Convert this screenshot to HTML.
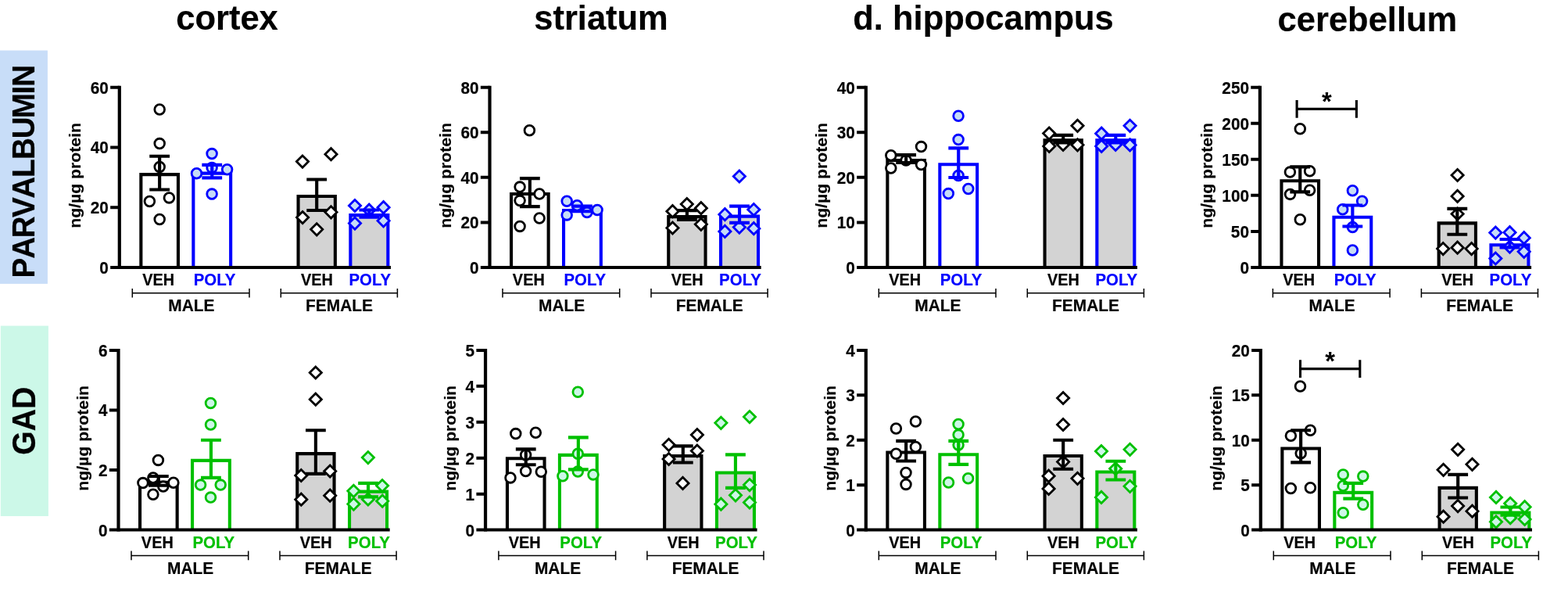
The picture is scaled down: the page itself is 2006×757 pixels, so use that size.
<!DOCTYPE html>
<html lang="en">
<head>
<meta charset="utf-8">
<title>Parvalbumin and GAD levels by brain region</title>
<style>
html,body{margin:0;padding:0;background:#fff;}
body{width:2006px;height:757px;overflow:hidden;}
svg{display:block;}
text{font-family:"Liberation Sans",Arial,Helvetica,sans-serif;font-weight:bold;fill:#000;}
.t{font-size:20.8px;}
.xv{font-size:19.9px;}
.xp{font-size:20.45px;}
.gl{font-size:20.9px;}
.t,.xv,.xp,.gl,.yl,.side,.title{stroke:#000;stroke-width:0.2px;}
.title{font-size:43.5px;}
.yl{font-size:21.2px;}
.side{font-size:39.3px;}
.pv{font-size:38.6px;}
.star{font-size:32.7px;}
.cb{fill:#0000ff;stroke:#0000ff;}
.cg{fill:#00c000;stroke:#00c000;}
</style>
</head>
<body>
<svg width="2006" height="757" viewBox="0 0 2006 757" role="img" aria-label="Parvalbumin and GAD protein levels in cortex, striatum, dorsal hippocampus and cerebellum of male and female VEH and POLY groups">
<rect width="2006" height="757" fill="#fff"/>
<rect x="0" y="64.5" width="60.9" height="298.4" fill="#c8ddf8"/>
<text transform="translate(43.5 0) rotate(-90) scale(1 1.06)" x="-355.41 -330.82 -304.22 -277.97 -253.87 -227.04 -204.11 -177.22 -151.28 -120.52 -110.68" class="side pv">PARVALBUMIN</text>
<rect x="0.8" y="416.6" width="61.1" height="243.4" fill="#ccf8e8"/>
<text transform="translate(45.2 538.2) rotate(-90) scale(1 1.085)" text-anchor="middle" class="side">GAD</text>
<text transform="translate(290.5 38) scale(1 1.025)" text-anchor="middle" class="title">cortex</text>
<text transform="translate(769 38) scale(1 1.025)" text-anchor="middle" class="title">striatum</text>
<text transform="translate(1258 38) scale(1 1.025)" text-anchor="middle" class="title">d. hippocampus</text>
<text transform="translate(1749.4 40.2) scale(1 1.025)" text-anchor="middle" class="title">cerebellum</text>
<g class="panel">
<path d="M180.35 341.9V223.15H227.95V341.9" fill="#ffffff" stroke="#000000" stroke-width="4.1" stroke-linejoin="miter"/>
<path d="M247.35 341.9V221.65H295.15V341.9" fill="#ffffff" stroke="#0000ff" stroke-width="4.1" stroke-linejoin="miter"/>
<path d="M381.55 341.9V251.05H428.85V341.9" fill="#d3d3d3" stroke="#000000" stroke-width="4.1" stroke-linejoin="miter"/>
<path d="M448.35 341.9V275.15H496.35V341.9" fill="#d3d3d3" stroke="#0000ff" stroke-width="4.1" stroke-linejoin="miter"/>
<circle cx="204.2" cy="140" r="6.35" fill="#ffffff" stroke="#000000" stroke-width="2.8"/>
<circle cx="204.2" cy="183.6" r="6.35" fill="#ffffff" stroke="#000000" stroke-width="2.8"/>
<circle cx="204.2" cy="213.4" r="6.35" fill="#ffffff" stroke="#000000" stroke-width="2.8"/>
<circle cx="216.4" cy="252.9" r="6.35" fill="#ffffff" stroke="#000000" stroke-width="2.8"/>
<circle cx="191.4" cy="257.5" r="6.35" fill="#ffffff" stroke="#000000" stroke-width="2.8"/>
<circle cx="204.2" cy="280.5" r="6.35" fill="#ffffff" stroke="#000000" stroke-width="2.8"/>
<circle cx="271.1" cy="196.6" r="6.35" fill="#c6dcf7" stroke="#0000ff" stroke-width="2.8"/>
<circle cx="251.5" cy="221.8" r="6.35" fill="#c6dcf7" stroke="#0000ff" stroke-width="2.8"/>
<circle cx="290.6" cy="216.7" r="6.35" fill="#c6dcf7" stroke="#0000ff" stroke-width="2.8"/>
<circle cx="271.1" cy="214.5" r="6.35" fill="#c6dcf7" stroke="#0000ff" stroke-width="2.8"/>
<circle cx="271.1" cy="248.1" r="6.35" fill="#c6dcf7" stroke="#0000ff" stroke-width="2.8"/>
<path d="M387 199L394.6 206.6L387 214.2L379.4 206.6Z" fill="#ffffff" stroke="#000000" stroke-width="2.8" stroke-linejoin="miter"/>
<path d="M423.5 189.6L431.1 197.2L423.5 204.8L415.9 197.2Z" fill="#ffffff" stroke="#000000" stroke-width="2.8" stroke-linejoin="miter"/>
<path d="M387.1 270.5L394.7 278.1L387.1 285.7L379.5 278.1Z" fill="#ffffff" stroke="#000000" stroke-width="2.8" stroke-linejoin="miter"/>
<path d="M423.5 263.7L431.1 271.3L423.5 278.9L415.9 271.3Z" fill="#ffffff" stroke="#000000" stroke-width="2.8" stroke-linejoin="miter"/>
<path d="M405.2 285.7L412.8 293.3L405.2 300.9L397.6 293.3Z" fill="#ffffff" stroke="#000000" stroke-width="2.8" stroke-linejoin="miter"/>
<path d="M454 255.4L461.6 263L454 270.6L446.4 263Z" fill="#c6dcf7" stroke="#0000ff" stroke-width="2.8" stroke-linejoin="miter"/>
<path d="M490.6 257.6L498.2 265.2L490.6 272.8L483 265.2Z" fill="#c6dcf7" stroke="#0000ff" stroke-width="2.8" stroke-linejoin="miter"/>
<path d="M472.2 261.1L479.8 268.7L472.2 276.3L464.6 268.7Z" fill="#c6dcf7" stroke="#0000ff" stroke-width="2.8" stroke-linejoin="miter"/>
<path d="M454 278L461.6 285.6L454 293.2L446.4 285.6Z" fill="#c6dcf7" stroke="#0000ff" stroke-width="2.8" stroke-linejoin="miter"/>
<path d="M490.6 274.7L498.2 282.3L490.6 289.9L483 282.3Z" fill="#c6dcf7" stroke="#0000ff" stroke-width="2.8" stroke-linejoin="miter"/>
<path d="M191.25 199.7H217.05M191.25 242.5H217.05M204.15 199.7V242.5" fill="none" stroke="#000000" stroke-width="4.15"/>
<path d="M258.35 210.8H284.15M258.35 227.3H284.15M271.25 210.8V227.3" fill="none" stroke="#0000ff" stroke-width="4.15"/>
<path d="M392.3 229.5H418.1M392.3 269H418.1M405.2 229.5V269" fill="none" stroke="#000000" stroke-width="4.15"/>
<path d="M459.45 268.5H485.25M459.45 277.7H485.25M472.35 268.5V277.7" fill="none" stroke="#0000ff" stroke-width="4.15"/>
<path d="M152.8 109.8V343.9" fill="none" stroke="#000" stroke-width="4.2"/>
<path d="M141.15 341.9H500" fill="none" stroke="#000" stroke-width="4"/>
<path d="M141.15 265.2H152.8M141.15 188.5H152.8M141.15 111.8H152.8" fill="none" stroke="#000" stroke-width="4"/>
<text transform="translate(138.9 349.8) scale(1 1.065)" text-anchor="end" class="t">0</text>
<text transform="translate(138.9 273.1) scale(1 1.065)" text-anchor="end" class="t">20</text>
<text transform="translate(138.9 196.4) scale(1 1.065)" text-anchor="end" class="t">40</text>
<text transform="translate(138.9 119.7) scale(1 1.065)" text-anchor="end" class="t">60</text>
<text transform="translate(103.1 224.45) rotate(-90) scale(1 0.93)" text-anchor="middle" class="yl">ng/µg protein</text>
<text transform="translate(202.6 365) scale(1 1.09)" text-anchor="middle" class="xv">VEH</text>
<text transform="translate(274.6 365) scale(1 1.065)" text-anchor="middle" class="xp cb">POLY</text>
<text transform="translate(405.5 365) scale(1 1.09)" text-anchor="middle" class="xv">VEH</text>
<text transform="translate(473.3 365) scale(1 1.065)" text-anchor="middle" class="xp cb">POLY</text>
<path d="M169.3 374.7H319M169.3 368.9v11.6M319 368.9v11.6" fill="none" stroke="#000" stroke-width="1.5"/>
<text transform="translate(244.9 398) scale(1 1.05)" text-anchor="middle" class="gl">MALE</text>
<path d="M359.3 374.7H508.4M359.3 368.9v11.6M508.4 368.9v11.6" fill="none" stroke="#000" stroke-width="1.5"/>
<text transform="translate(434 398) scale(1 1.05)" text-anchor="middle" class="gl">FEMALE</text>
</g>
<g class="panel">
<path d="M654.05 341.9V248.05H701.65V341.9" fill="#ffffff" stroke="#000000" stroke-width="4.1" stroke-linejoin="miter"/>
<path d="M721.05 341.9V268.95H768.85V341.9" fill="#ffffff" stroke="#0000ff" stroke-width="4.1" stroke-linejoin="miter"/>
<path d="M855.25 341.9V277.1H902.55V341.9" fill="#d3d3d3" stroke="#000000" stroke-width="4.1" stroke-linejoin="miter"/>
<path d="M922.05 341.9V276.65H970.05V341.9" fill="#d3d3d3" stroke="#0000ff" stroke-width="4.1" stroke-linejoin="miter"/>
<circle cx="677.4" cy="166.7" r="6.35" fill="#ffffff" stroke="#000000" stroke-width="2.8"/>
<circle cx="665.1" cy="239.1" r="6.35" fill="#ffffff" stroke="#000000" stroke-width="2.8"/>
<circle cx="690.1" cy="248" r="6.35" fill="#ffffff" stroke="#000000" stroke-width="2.8"/>
<circle cx="665.1" cy="256.6" r="6.35" fill="#ffffff" stroke="#000000" stroke-width="2.8"/>
<circle cx="690.1" cy="279" r="6.35" fill="#ffffff" stroke="#000000" stroke-width="2.8"/>
<circle cx="665.1" cy="289.4" r="6.35" fill="#ffffff" stroke="#000000" stroke-width="2.8"/>
<circle cx="725.2" cy="257.2" r="6.35" fill="#c6dcf7" stroke="#0000ff" stroke-width="2.8"/>
<circle cx="738.3" cy="262.8" r="6.35" fill="#c6dcf7" stroke="#0000ff" stroke-width="2.8"/>
<circle cx="764.1" cy="268.5" r="6.35" fill="#c6dcf7" stroke="#0000ff" stroke-width="2.8"/>
<circle cx="751" cy="271.6" r="6.35" fill="#c6dcf7" stroke="#0000ff" stroke-width="2.8"/>
<circle cx="725.2" cy="274.9" r="6.35" fill="#c6dcf7" stroke="#0000ff" stroke-width="2.8"/>
<path d="M878.8 253.4L886.4 261L878.8 268.6L871.2 261Z" fill="#ffffff" stroke="#000000" stroke-width="2.8" stroke-linejoin="miter"/>
<path d="M860.45 262.6L868.05 270.2L860.45 277.8L852.85 270.2Z" fill="#ffffff" stroke="#000000" stroke-width="2.8" stroke-linejoin="miter"/>
<path d="M896.85 258.6L904.45 266.2L896.85 273.8L889.25 266.2Z" fill="#ffffff" stroke="#000000" stroke-width="2.8" stroke-linejoin="miter"/>
<path d="M896.85 279.25L904.45 286.85L896.85 294.45L889.25 286.85Z" fill="#ffffff" stroke="#000000" stroke-width="2.8" stroke-linejoin="miter"/>
<path d="M860.45 283.9L868.05 291.5L860.45 299.1L852.85 291.5Z" fill="#ffffff" stroke="#000000" stroke-width="2.8" stroke-linejoin="miter"/>
<path d="M945.9 217.9L953.5 225.5L945.9 233.1L938.3 225.5Z" fill="#c6dcf7" stroke="#0000ff" stroke-width="2.8" stroke-linejoin="miter"/>
<path d="M964.3 260.4L971.9 268L964.3 275.6L956.7 268Z" fill="#c6dcf7" stroke="#0000ff" stroke-width="2.8" stroke-linejoin="miter"/>
<path d="M927.4 266.6L935 274.2L927.4 281.8L919.8 274.2Z" fill="#c6dcf7" stroke="#0000ff" stroke-width="2.8" stroke-linejoin="miter"/>
<path d="M945.9 283L953.5 290.6L945.9 298.2L938.3 290.6Z" fill="#c6dcf7" stroke="#0000ff" stroke-width="2.8" stroke-linejoin="miter"/>
<path d="M964.3 284.6L971.9 292.2L964.3 299.8L956.7 292.2Z" fill="#c6dcf7" stroke="#0000ff" stroke-width="2.8" stroke-linejoin="miter"/>
<path d="M927.4 288.3L935 295.9L927.4 303.5L919.8 295.9Z" fill="#c6dcf7" stroke="#0000ff" stroke-width="2.8" stroke-linejoin="miter"/>
<path d="M664.95 228.1H690.75M664.95 264.1H690.75M677.85 228.1V264.1" fill="none" stroke="#000000" stroke-width="4.15"/>
<path d="M732.05 263.6H757.85M732.05 270.2H757.85M744.95 263.6V270.2" fill="none" stroke="#0000ff" stroke-width="4.15"/>
<path d="M866 269.05H891.8M866 280.95H891.8M878.9 269.05V280.95" fill="none" stroke="#000000" stroke-width="4.15"/>
<path d="M933.15 263.6H958.95M933.15 284.9H958.95M946.05 263.6V284.9" fill="none" stroke="#0000ff" stroke-width="4.15"/>
<path d="M626.5 109.8V343.9" fill="none" stroke="#000" stroke-width="4.2"/>
<path d="M614.85 341.9H973.7" fill="none" stroke="#000" stroke-width="4"/>
<path d="M614.85 284.38H626.5M614.85 226.85H626.5M614.85 169.32H626.5M614.85 111.8H626.5" fill="none" stroke="#000" stroke-width="4"/>
<text transform="translate(612.6 349.8) scale(1 1.065)" text-anchor="end" class="t">0</text>
<text transform="translate(612.6 292.27) scale(1 1.065)" text-anchor="end" class="t">20</text>
<text transform="translate(612.6 234.75) scale(1 1.065)" text-anchor="end" class="t">40</text>
<text transform="translate(612.6 177.22) scale(1 1.065)" text-anchor="end" class="t">60</text>
<text transform="translate(612.6 119.7) scale(1 1.065)" text-anchor="end" class="t">80</text>
<text transform="translate(577.3 224.45) rotate(-90) scale(1 0.93)" text-anchor="middle" class="yl">ng/µg protein</text>
<text transform="translate(676.3 365) scale(1 1.09)" text-anchor="middle" class="xv">VEH</text>
<text transform="translate(748.3 365) scale(1 1.065)" text-anchor="middle" class="xp cb">POLY</text>
<text transform="translate(879.2 365) scale(1 1.09)" text-anchor="middle" class="xv">VEH</text>
<text transform="translate(947 365) scale(1 1.065)" text-anchor="middle" class="xp cb">POLY</text>
<path d="M643 374.7H792.7M643 368.9v11.6M792.7 368.9v11.6" fill="none" stroke="#000" stroke-width="1.5"/>
<text transform="translate(718.6 398) scale(1 1.05)" text-anchor="middle" class="gl">MALE</text>
<path d="M833 374.7H982.1M833 368.9v11.6M982.1 368.9v11.6" fill="none" stroke="#000" stroke-width="1.5"/>
<text transform="translate(907.7 398) scale(1 1.05)" text-anchor="middle" class="gl">FEMALE</text>
</g>
<g class="panel">
<path d="M1135.35 341.9V204.95H1182.95V341.9" fill="#ffffff" stroke="#000000" stroke-width="4.1" stroke-linejoin="miter"/>
<path d="M1202.35 341.9V210.25H1250.15V341.9" fill="#ffffff" stroke="#0000ff" stroke-width="4.1" stroke-linejoin="miter"/>
<path d="M1336.55 341.9V179.35H1383.85V341.9" fill="#d3d3d3" stroke="#000000" stroke-width="4.1" stroke-linejoin="miter"/>
<path d="M1403.35 341.9V179.35H1451.35V341.9" fill="#d3d3d3" stroke="#0000ff" stroke-width="4.1" stroke-linejoin="miter"/>
<circle cx="1139.8" cy="198.8" r="6.35" fill="#ffffff" stroke="#000000" stroke-width="2.8"/>
<circle cx="1178.5" cy="187.6" r="6.35" fill="#ffffff" stroke="#000000" stroke-width="2.8"/>
<circle cx="1159.1" cy="205.1" r="6.35" fill="#ffffff" stroke="#000000" stroke-width="2.8"/>
<circle cx="1178.5" cy="210.6" r="6.35" fill="#ffffff" stroke="#000000" stroke-width="2.8"/>
<circle cx="1139.8" cy="215" r="6.35" fill="#ffffff" stroke="#000000" stroke-width="2.8"/>
<circle cx="1226.1" cy="148.3" r="6.35" fill="#c6dcf7" stroke="#0000ff" stroke-width="2.8"/>
<circle cx="1226.1" cy="178.6" r="6.35" fill="#c6dcf7" stroke="#0000ff" stroke-width="2.8"/>
<circle cx="1226.1" cy="224.4" r="6.35" fill="#c6dcf7" stroke="#0000ff" stroke-width="2.8"/>
<circle cx="1238.8" cy="241.5" r="6.35" fill="#c6dcf7" stroke="#0000ff" stroke-width="2.8"/>
<circle cx="1213.3" cy="247.6" r="6.35" fill="#c6dcf7" stroke="#0000ff" stroke-width="2.8"/>
<path d="M1378.5 153.2L1386.1 160.8L1378.5 168.4L1370.9 160.8Z" fill="#ffffff" stroke="#000000" stroke-width="2.8" stroke-linejoin="miter"/>
<path d="M1342.2 163L1349.8 170.6L1342.2 178.2L1334.6 170.6Z" fill="#ffffff" stroke="#000000" stroke-width="2.8" stroke-linejoin="miter"/>
<path d="M1342.3 179.3L1349.9 186.9L1342.3 194.5L1334.7 186.9Z" fill="#ffffff" stroke="#000000" stroke-width="2.8" stroke-linejoin="miter"/>
<path d="M1360.1 177.3L1367.7 184.9L1360.1 192.5L1352.5 184.9Z" fill="#ffffff" stroke="#000000" stroke-width="2.8" stroke-linejoin="miter"/>
<path d="M1378.5 177.7L1386.1 185.3L1378.5 192.9L1370.9 185.3Z" fill="#ffffff" stroke="#000000" stroke-width="2.8" stroke-linejoin="miter"/>
<path d="M1445.6 153.2L1453.2 160.8L1445.6 168.4L1438 160.8Z" fill="#c6dcf7" stroke="#0000ff" stroke-width="2.8" stroke-linejoin="miter"/>
<path d="M1409.2 163.1L1416.8 170.7L1409.2 178.3L1401.6 170.7Z" fill="#c6dcf7" stroke="#0000ff" stroke-width="2.8" stroke-linejoin="miter"/>
<path d="M1409.2 179.3L1416.8 186.9L1409.2 194.5L1401.6 186.9Z" fill="#c6dcf7" stroke="#0000ff" stroke-width="2.8" stroke-linejoin="miter"/>
<path d="M1427.2 177.3L1434.8 184.9L1427.2 192.5L1419.6 184.9Z" fill="#c6dcf7" stroke="#0000ff" stroke-width="2.8" stroke-linejoin="miter"/>
<path d="M1445.6 177.8L1453.2 185.4L1445.6 193L1438 185.4Z" fill="#c6dcf7" stroke="#0000ff" stroke-width="2.8" stroke-linejoin="miter"/>
<path d="M1146.25 198.1H1172.05M1146.25 208H1172.05M1159.15 198.1V208" fill="none" stroke="#000000" stroke-width="4.15"/>
<path d="M1213.35 189.3H1239.15M1213.35 227H1239.15M1226.25 189.3V227" fill="none" stroke="#0000ff" stroke-width="4.15"/>
<path d="M1347.3 172.9H1373.1M1347.3 182.3H1373.1M1360.2 172.9V182.3" fill="none" stroke="#000000" stroke-width="4.15"/>
<path d="M1414.45 172.9H1440.25M1414.45 182.3H1440.25M1427.35 172.9V182.3" fill="none" stroke="#0000ff" stroke-width="4.15"/>
<path d="M1107.8 109.8V343.9" fill="none" stroke="#000" stroke-width="4.2"/>
<path d="M1096.15 341.9H1455" fill="none" stroke="#000" stroke-width="4"/>
<path d="M1096.15 284.38H1107.8M1096.15 226.85H1107.8M1096.15 169.32H1107.8M1096.15 111.8H1107.8" fill="none" stroke="#000" stroke-width="4"/>
<text transform="translate(1093.9 349.8) scale(1 1.065)" text-anchor="end" class="t">0</text>
<text transform="translate(1093.9 292.27) scale(1 1.065)" text-anchor="end" class="t">10</text>
<text transform="translate(1093.9 234.75) scale(1 1.065)" text-anchor="end" class="t">20</text>
<text transform="translate(1093.9 177.22) scale(1 1.065)" text-anchor="end" class="t">30</text>
<text transform="translate(1093.9 119.7) scale(1 1.065)" text-anchor="end" class="t">40</text>
<text transform="translate(1058 224.45) rotate(-90) scale(1 0.93)" text-anchor="middle" class="yl">ng/µg protein</text>
<text transform="translate(1157.6 365) scale(1 1.09)" text-anchor="middle" class="xv">VEH</text>
<text transform="translate(1229.6 365) scale(1 1.065)" text-anchor="middle" class="xp cb">POLY</text>
<text transform="translate(1360.5 365) scale(1 1.09)" text-anchor="middle" class="xv">VEH</text>
<text transform="translate(1428.3 365) scale(1 1.065)" text-anchor="middle" class="xp cb">POLY</text>
<path d="M1124.3 374.7H1274M1124.3 368.9v11.6M1274 368.9v11.6" fill="none" stroke="#000" stroke-width="1.5"/>
<text transform="translate(1199.9 398) scale(1 1.05)" text-anchor="middle" class="gl">MALE</text>
<path d="M1314.3 374.7H1463.4M1314.3 368.9v11.6M1463.4 368.9v11.6" fill="none" stroke="#000" stroke-width="1.5"/>
<text transform="translate(1389 398) scale(1 1.05)" text-anchor="middle" class="gl">FEMALE</text>
</g>
<g class="panel">
<path d="M1639.45 341.9V231.25H1687.05V341.9" fill="#ffffff" stroke="#000000" stroke-width="4.1" stroke-linejoin="miter"/>
<path d="M1706.45 341.9V277.75H1754.25V341.9" fill="#ffffff" stroke="#0000ff" stroke-width="4.1" stroke-linejoin="miter"/>
<path d="M1840.65 341.9V285.35H1887.95V341.9" fill="#d3d3d3" stroke="#000000" stroke-width="4.1" stroke-linejoin="miter"/>
<path d="M1907.45 341.9V313.25H1955.45V341.9" fill="#d3d3d3" stroke="#0000ff" stroke-width="4.1" stroke-linejoin="miter"/>
<circle cx="1663.3" cy="164.8" r="6.35" fill="#ffffff" stroke="#000000" stroke-width="2.8"/>
<circle cx="1650.4" cy="220.1" r="6.35" fill="#ffffff" stroke="#000000" stroke-width="2.8"/>
<circle cx="1675.6" cy="218.8" r="6.35" fill="#ffffff" stroke="#000000" stroke-width="2.8"/>
<circle cx="1675.6" cy="243.3" r="6.35" fill="#ffffff" stroke="#000000" stroke-width="2.8"/>
<circle cx="1650.5" cy="248.4" r="6.35" fill="#ffffff" stroke="#000000" stroke-width="2.8"/>
<circle cx="1663.3" cy="280.8" r="6.35" fill="#ffffff" stroke="#000000" stroke-width="2.8"/>
<circle cx="1730.4" cy="243.7" r="6.35" fill="#c6dcf7" stroke="#0000ff" stroke-width="2.8"/>
<circle cx="1742.6" cy="257.3" r="6.35" fill="#c6dcf7" stroke="#0000ff" stroke-width="2.8"/>
<circle cx="1717.7" cy="267.8" r="6.35" fill="#c6dcf7" stroke="#0000ff" stroke-width="2.8"/>
<circle cx="1730.4" cy="290.6" r="6.35" fill="#c6dcf7" stroke="#0000ff" stroke-width="2.8"/>
<circle cx="1730.4" cy="320" r="6.35" fill="#c6dcf7" stroke="#0000ff" stroke-width="2.8"/>
<path d="M1864.6 216.4L1872.2 224L1864.6 231.6L1857 224Z" fill="#ffffff" stroke="#000000" stroke-width="2.8" stroke-linejoin="miter"/>
<path d="M1864.6 243.3L1872.2 250.9L1864.6 258.5L1857 250.9Z" fill="#ffffff" stroke="#000000" stroke-width="2.8" stroke-linejoin="miter"/>
<path d="M1864.6 265.9L1872.2 273.5L1864.6 281.1L1857 273.5Z" fill="#ffffff" stroke="#000000" stroke-width="2.8" stroke-linejoin="miter"/>
<path d="M1846.2 310.5L1853.8 318.1L1846.2 325.7L1838.6 318.1Z" fill="#ffffff" stroke="#000000" stroke-width="2.8" stroke-linejoin="miter"/>
<path d="M1864.6 309.1L1872.2 316.7L1864.6 324.3L1857 316.7Z" fill="#ffffff" stroke="#000000" stroke-width="2.8" stroke-linejoin="miter"/>
<path d="M1882.6 310.5L1890.2 318.1L1882.6 325.7L1875 318.1Z" fill="#ffffff" stroke="#000000" stroke-width="2.8" stroke-linejoin="miter"/>
<path d="M1913.3 290L1920.9 297.6L1913.3 305.2L1905.7 297.6Z" fill="#c6dcf7" stroke="#0000ff" stroke-width="2.8" stroke-linejoin="miter"/>
<path d="M1931.5 289.6L1939.1 297.2L1931.5 304.8L1923.9 297.2Z" fill="#c6dcf7" stroke="#0000ff" stroke-width="2.8" stroke-linejoin="miter"/>
<path d="M1949.7 296.6L1957.3 304.2L1949.7 311.8L1942.1 304.2Z" fill="#c6dcf7" stroke="#0000ff" stroke-width="2.8" stroke-linejoin="miter"/>
<path d="M1931.5 308L1939.1 315.6L1931.5 323.2L1923.9 315.6Z" fill="#c6dcf7" stroke="#0000ff" stroke-width="2.8" stroke-linejoin="miter"/>
<path d="M1949.7 314.2L1957.3 321.8L1949.7 329.4L1942.1 321.8Z" fill="#c6dcf7" stroke="#0000ff" stroke-width="2.8" stroke-linejoin="miter"/>
<path d="M1913.3 322.9L1920.9 330.5L1913.3 338.1L1905.7 330.5Z" fill="#c6dcf7" stroke="#0000ff" stroke-width="2.8" stroke-linejoin="miter"/>
<path d="M1650.35 213.4H1676.15M1650.35 245.3H1676.15M1663.25 213.4V245.3" fill="none" stroke="#000000" stroke-width="4.15"/>
<path d="M1717.45 262.5H1743.25M1717.45 289.5H1743.25M1730.35 262.5V289.5" fill="none" stroke="#0000ff" stroke-width="4.15"/>
<path d="M1851.4 266.9H1877.2M1851.4 299.7H1877.2M1864.3 266.9V299.7" fill="none" stroke="#000000" stroke-width="4.15"/>
<path d="M1918.55 306H1944.35M1918.55 316.4H1944.35M1931.45 306V316.4" fill="none" stroke="#0000ff" stroke-width="4.15"/>
<path d="M1611.9 109.8V343.9" fill="none" stroke="#000" stroke-width="4.2"/>
<path d="M1600.25 341.9H1959.1" fill="none" stroke="#000" stroke-width="4"/>
<path d="M1600.25 295.88H1611.9M1600.25 249.86H1611.9M1600.25 203.84H1611.9M1600.25 157.82H1611.9M1600.25 111.8H1611.9" fill="none" stroke="#000" stroke-width="4"/>
<text transform="translate(1598 349.8) scale(1 1.065)" text-anchor="end" class="t">0</text>
<text transform="translate(1598 303.78) scale(1 1.065)" text-anchor="end" class="t">50</text>
<text transform="translate(1598 257.76) scale(1 1.065)" text-anchor="end" class="t">100</text>
<text transform="translate(1598 211.74) scale(1 1.065)" text-anchor="end" class="t">150</text>
<text transform="translate(1598 165.72) scale(1 1.065)" text-anchor="end" class="t">200</text>
<text transform="translate(1598 119.7) scale(1 1.065)" text-anchor="end" class="t">250</text>
<text transform="translate(1551.3 224.45) rotate(-90) scale(1 0.93)" text-anchor="middle" class="yl">ng/µg protein</text>
<text transform="translate(1661.7 365) scale(1 1.09)" text-anchor="middle" class="xv">VEH</text>
<text transform="translate(1733.7 365) scale(1 1.065)" text-anchor="middle" class="xp cb">POLY</text>
<text transform="translate(1864.6 365) scale(1 1.09)" text-anchor="middle" class="xv">VEH</text>
<text transform="translate(1932.4 365) scale(1 1.065)" text-anchor="middle" class="xp cb">POLY</text>
<path d="M1628.4 374.7H1778.1M1628.4 368.9v11.6M1778.1 368.9v11.6" fill="none" stroke="#000" stroke-width="1.5"/>
<text transform="translate(1704 398) scale(1 1.05)" text-anchor="middle" class="gl">MALE</text>
<path d="M1818.4 374.7H1967.5M1818.4 368.9v11.6M1967.5 368.9v11.6" fill="none" stroke="#000" stroke-width="1.5"/>
<text transform="translate(1893.1 398) scale(1 1.05)" text-anchor="middle" class="gl">FEMALE</text>
<path d="M1659.1 139.4H1735.4M1659.1 128.1v22.6M1735.4 128.1v22.6" fill="none" stroke="#000" stroke-width="3.1"/>
<text transform="translate(1697.25 141)" text-anchor="middle" class="star">*</text>
</g>
<g class="panel">
<path d="M179.05 677.6V616.9H226.65V677.6" fill="#ffffff" stroke="#000000" stroke-width="4.1" stroke-linejoin="miter"/>
<path d="M246.05 677.6V588.85H293.85V677.6" fill="#ffffff" stroke="#00c000" stroke-width="4.1" stroke-linejoin="miter"/>
<path d="M380.25 677.6V580.15H427.55V677.6" fill="#d3d3d3" stroke="#000000" stroke-width="4.1" stroke-linejoin="miter"/>
<path d="M447.05 677.6V628.65H495.05V677.6" fill="#d3d3d3" stroke="#00c000" stroke-width="4.1" stroke-linejoin="miter"/>
<circle cx="202.4" cy="588.4" r="6.35" fill="#ffffff" stroke="#000000" stroke-width="2.8"/>
<circle cx="195.9" cy="611" r="6.35" fill="#ffffff" stroke="#000000" stroke-width="2.8"/>
<circle cx="182.9" cy="617.6" r="6.35" fill="#ffffff" stroke="#000000" stroke-width="2.8"/>
<circle cx="221.9" cy="617.2" r="6.35" fill="#ffffff" stroke="#000000" stroke-width="2.8"/>
<circle cx="208.8" cy="622.1" r="6.35" fill="#ffffff" stroke="#000000" stroke-width="2.8"/>
<circle cx="195.9" cy="632.2" r="6.35" fill="#ffffff" stroke="#000000" stroke-width="2.8"/>
<circle cx="269.5" cy="515.5" r="6.35" fill="#cdf7e7" stroke="#00c000" stroke-width="2.8"/>
<circle cx="269.5" cy="543" r="6.35" fill="#cdf7e7" stroke="#00c000" stroke-width="2.8"/>
<circle cx="256.6" cy="620.1" r="6.35" fill="#cdf7e7" stroke="#00c000" stroke-width="2.8"/>
<circle cx="282.2" cy="620.1" r="6.35" fill="#cdf7e7" stroke="#00c000" stroke-width="2.8"/>
<circle cx="269.5" cy="636.1" r="6.35" fill="#cdf7e7" stroke="#00c000" stroke-width="2.8"/>
<path d="M403.8 468.9L411.4 476.5L403.8 484.1L396.2 476.5Z" fill="#ffffff" stroke="#000000" stroke-width="2.8" stroke-linejoin="miter"/>
<path d="M403.8 503.1L411.4 510.7L403.8 518.3L396.2 510.7Z" fill="#ffffff" stroke="#000000" stroke-width="2.8" stroke-linejoin="miter"/>
<path d="M422.2 594.9L429.8 602.5L422.2 610.1L414.6 602.5Z" fill="#ffffff" stroke="#000000" stroke-width="2.8" stroke-linejoin="miter"/>
<path d="M385.3 600.4L392.9 608L385.3 615.6L377.7 608Z" fill="#ffffff" stroke="#000000" stroke-width="2.8" stroke-linejoin="miter"/>
<path d="M422.2 626.1L429.8 633.7L422.2 641.3L414.6 633.7Z" fill="#ffffff" stroke="#000000" stroke-width="2.8" stroke-linejoin="miter"/>
<path d="M385.3 631.1L392.9 638.7L385.3 646.3L377.7 638.7Z" fill="#ffffff" stroke="#000000" stroke-width="2.8" stroke-linejoin="miter"/>
<path d="M470.9 577.5L478.5 585.1L470.9 592.7L463.3 585.1Z" fill="#cdf7e7" stroke="#00c000" stroke-width="2.8" stroke-linejoin="miter"/>
<path d="M489.1 613.5L496.7 621.1L489.1 628.7L481.5 621.1Z" fill="#cdf7e7" stroke="#00c000" stroke-width="2.8" stroke-linejoin="miter"/>
<path d="M452.4 620.2L460 627.8L452.4 635.4L444.8 627.8Z" fill="#cdf7e7" stroke="#00c000" stroke-width="2.8" stroke-linejoin="miter"/>
<path d="M470.9 630.8L478.5 638.4L470.9 646L463.3 638.4Z" fill="#cdf7e7" stroke="#00c000" stroke-width="2.8" stroke-linejoin="miter"/>
<path d="M489.2 633.1L496.8 640.7L489.2 648.3L481.6 640.7Z" fill="#cdf7e7" stroke="#00c000" stroke-width="2.8" stroke-linejoin="miter"/>
<path d="M452.4 637L460 644.6L452.4 652.2L444.8 644.6Z" fill="#cdf7e7" stroke="#00c000" stroke-width="2.8" stroke-linejoin="miter"/>
<path d="M189.95 609H215.75M189.95 620.7H215.75M202.85 609V620.7" fill="none" stroke="#000000" stroke-width="4.15"/>
<path d="M257.05 562.7H282.85M257.05 610.9H282.85M269.95 562.7V610.9" fill="none" stroke="#00c000" stroke-width="4.15"/>
<path d="M391 550.2H416.8M391 605.8H416.8M403.9 550.2V605.8" fill="none" stroke="#000000" stroke-width="4.15"/>
<path d="M458.15 617.9H483.95M458.15 635.3H483.95M471.05 617.9V635.3" fill="none" stroke="#00c000" stroke-width="4.15"/>
<path d="M151.5 445.9V679.6" fill="none" stroke="#000" stroke-width="4.2"/>
<path d="M139.85 677.6H498.7" fill="none" stroke="#000" stroke-width="4"/>
<path d="M139.85 601.03H151.5M139.85 524.47H151.5M139.85 447.9H151.5" fill="none" stroke="#000" stroke-width="4"/>
<text transform="translate(137.6 685.5) scale(1 1.065)" text-anchor="end" class="t">0</text>
<text transform="translate(137.6 608.93) scale(1 1.065)" text-anchor="end" class="t">2</text>
<text transform="translate(137.6 532.37) scale(1 1.065)" text-anchor="end" class="t">4</text>
<text transform="translate(137.6 455.8) scale(1 1.065)" text-anchor="end" class="t">6</text>
<text transform="translate(113.1 560.35) rotate(-90) scale(1 0.93)" text-anchor="middle" class="yl">ng/µg protein</text>
<text transform="translate(201.3 700.7) scale(1 1.09)" text-anchor="middle" class="xv">VEH</text>
<text transform="translate(273.3 700.7) scale(1 1.065)" text-anchor="middle" class="xp cg">POLY</text>
<text transform="translate(404.2 700.7) scale(1 1.09)" text-anchor="middle" class="xv">VEH</text>
<text transform="translate(472 700.7) scale(1 1.065)" text-anchor="middle" class="xp cg">POLY</text>
<path d="M168 710.4H317.7M168 704.6v11.6M317.7 704.6v11.6" fill="none" stroke="#000" stroke-width="1.5"/>
<text transform="translate(243.6 733.7) scale(1 1.05)" text-anchor="middle" class="gl">MALE</text>
<path d="M358 710.4H507.1M358 704.6v11.6M507.1 704.6v11.6" fill="none" stroke="#000" stroke-width="1.5"/>
<text transform="translate(432.7 733.7) scale(1 1.05)" text-anchor="middle" class="gl">FEMALE</text>
</g>
<g class="panel">
<path d="M648.95 677.6V586.25H696.55V677.6" fill="#ffffff" stroke="#000000" stroke-width="4.1" stroke-linejoin="miter"/>
<path d="M715.95 677.6V581.85H763.75V677.6" fill="#ffffff" stroke="#00c000" stroke-width="4.1" stroke-linejoin="miter"/>
<path d="M850.15 677.6V582.95H897.45V677.6" fill="#d3d3d3" stroke="#000000" stroke-width="4.1" stroke-linejoin="miter"/>
<path d="M916.95 677.6V604.55H964.95V677.6" fill="#d3d3d3" stroke="#00c000" stroke-width="4.1" stroke-linejoin="miter"/>
<circle cx="659.8" cy="554.6" r="6.35" fill="#ffffff" stroke="#000000" stroke-width="2.8"/>
<circle cx="685.3" cy="553.3" r="6.35" fill="#ffffff" stroke="#000000" stroke-width="2.8"/>
<circle cx="672.6" cy="581.8" r="6.35" fill="#ffffff" stroke="#000000" stroke-width="2.8"/>
<circle cx="672.6" cy="602.5" r="6.35" fill="#ffffff" stroke="#000000" stroke-width="2.8"/>
<circle cx="692.3" cy="603.2" r="6.35" fill="#ffffff" stroke="#000000" stroke-width="2.8"/>
<circle cx="653" cy="610.9" r="6.35" fill="#ffffff" stroke="#000000" stroke-width="2.8"/>
<circle cx="739.3" cy="501.3" r="6.35" fill="#cdf7e7" stroke="#00c000" stroke-width="2.8"/>
<circle cx="739.3" cy="580.3" r="6.35" fill="#cdf7e7" stroke="#00c000" stroke-width="2.8"/>
<circle cx="739.3" cy="603" r="6.35" fill="#cdf7e7" stroke="#00c000" stroke-width="2.8"/>
<circle cx="759" cy="606.9" r="6.35" fill="#cdf7e7" stroke="#00c000" stroke-width="2.8"/>
<circle cx="719.9" cy="608.7" r="6.35" fill="#cdf7e7" stroke="#00c000" stroke-width="2.8"/>
<path d="M891.9 548.5L899.5 556.1L891.9 563.7L884.3 556.1Z" fill="#ffffff" stroke="#000000" stroke-width="2.8" stroke-linejoin="miter"/>
<path d="M855.6 561.2L863.2 568.8L855.6 576.4L848 568.8Z" fill="#ffffff" stroke="#000000" stroke-width="2.8" stroke-linejoin="miter"/>
<path d="M891.9 568.9L899.5 576.5L891.9 584.1L884.3 576.5Z" fill="#ffffff" stroke="#000000" stroke-width="2.8" stroke-linejoin="miter"/>
<path d="M855.6 579.4L863.2 587L855.6 594.6L848 587Z" fill="#ffffff" stroke="#000000" stroke-width="2.8" stroke-linejoin="miter"/>
<path d="M873.5 610.3L881.1 617.9L873.5 625.5L865.9 617.9Z" fill="#ffffff" stroke="#000000" stroke-width="2.8" stroke-linejoin="miter"/>
<path d="M922.4 533.2L930 540.8L922.4 548.4L914.8 540.8Z" fill="#cdf7e7" stroke="#00c000" stroke-width="2.8" stroke-linejoin="miter"/>
<path d="M959 525.5L966.6 533.1L959 540.7L951.4 533.1Z" fill="#cdf7e7" stroke="#00c000" stroke-width="2.8" stroke-linejoin="miter"/>
<path d="M959 612.5L966.6 620.1L959 627.7L951.4 620.1Z" fill="#cdf7e7" stroke="#00c000" stroke-width="2.8" stroke-linejoin="miter"/>
<path d="M941 625.7L948.6 633.3L941 640.9L933.4 633.3Z" fill="#cdf7e7" stroke="#00c000" stroke-width="2.8" stroke-linejoin="miter"/>
<path d="M959 634.9L966.6 642.5L959 650.1L951.4 642.5Z" fill="#cdf7e7" stroke="#00c000" stroke-width="2.8" stroke-linejoin="miter"/>
<path d="M922.4 637.1L930 644.7L922.4 652.3L914.8 644.7Z" fill="#cdf7e7" stroke="#00c000" stroke-width="2.8" stroke-linejoin="miter"/>
<path d="M659.85 574.3H685.65M659.85 594.2H685.65M672.75 574.3V594.2" fill="none" stroke="#000000" stroke-width="4.15"/>
<path d="M726.95 559.4H752.75M726.95 600.3H752.75M739.85 559.4V600.3" fill="none" stroke="#00c000" stroke-width="4.15"/>
<path d="M860.9 570.4H886.7M860.9 591.5H886.7M873.8 570.4V591.5" fill="none" stroke="#000000" stroke-width="4.15"/>
<path d="M928.05 581.3H953.85M928.05 623.8H953.85M940.95 581.3V623.8" fill="none" stroke="#00c000" stroke-width="4.15"/>
<path d="M621.05 445.9V679.6" fill="none" stroke="#000" stroke-width="4.2"/>
<path d="M609.4 677.6H968.6" fill="none" stroke="#000" stroke-width="4"/>
<path d="M609.4 631.66H621.05M609.4 585.72H621.05M609.4 539.78H621.05M609.4 493.84H621.05M609.4 447.9H621.05" fill="none" stroke="#000" stroke-width="4"/>
<text transform="translate(607.15 685.5) scale(1 1.065)" text-anchor="end" class="t">0</text>
<text transform="translate(607.15 639.56) scale(1 1.065)" text-anchor="end" class="t">1</text>
<text transform="translate(607.15 593.62) scale(1 1.065)" text-anchor="end" class="t">2</text>
<text transform="translate(607.15 547.68) scale(1 1.065)" text-anchor="end" class="t">3</text>
<text transform="translate(607.15 501.74) scale(1 1.065)" text-anchor="end" class="t">4</text>
<text transform="translate(607.15 455.8) scale(1 1.065)" text-anchor="end" class="t">5</text>
<text transform="translate(582.8 560.35) rotate(-90) scale(1 0.93)" text-anchor="middle" class="yl">ng/µg protein</text>
<text transform="translate(671.2 700.7) scale(1 1.09)" text-anchor="middle" class="xv">VEH</text>
<text transform="translate(743.2 700.7) scale(1 1.065)" text-anchor="middle" class="xp cg">POLY</text>
<text transform="translate(874.1 700.7) scale(1 1.09)" text-anchor="middle" class="xv">VEH</text>
<text transform="translate(941.9 700.7) scale(1 1.065)" text-anchor="middle" class="xp cg">POLY</text>
<path d="M637.9 710.4H787.6M637.9 704.6v11.6M787.6 704.6v11.6" fill="none" stroke="#000" stroke-width="1.5"/>
<text transform="translate(713.5 733.7) scale(1 1.05)" text-anchor="middle" class="gl">MALE</text>
<path d="M827.9 710.4H977M827.9 704.6v11.6M977 704.6v11.6" fill="none" stroke="#000" stroke-width="1.5"/>
<text transform="translate(902.6 733.7) scale(1 1.05)" text-anchor="middle" class="gl">FEMALE</text>
</g>
<g class="panel">
<path d="M1135.35 677.6V578.55H1182.95V677.6" fill="#ffffff" stroke="#000000" stroke-width="4.1" stroke-linejoin="miter"/>
<path d="M1202.35 677.6V581.25H1250.15V677.6" fill="#ffffff" stroke="#00c000" stroke-width="4.1" stroke-linejoin="miter"/>
<path d="M1336.55 677.6V582.95H1383.85V677.6" fill="#d3d3d3" stroke="#000000" stroke-width="4.1" stroke-linejoin="miter"/>
<path d="M1403.35 677.6V603.55H1451.35V677.6" fill="#d3d3d3" stroke="#00c000" stroke-width="4.1" stroke-linejoin="miter"/>
<circle cx="1171.4" cy="539" r="6.35" fill="#ffffff" stroke="#000000" stroke-width="2.8"/>
<circle cx="1146.4" cy="548" r="6.35" fill="#ffffff" stroke="#000000" stroke-width="2.8"/>
<circle cx="1171.4" cy="571.5" r="6.35" fill="#ffffff" stroke="#000000" stroke-width="2.8"/>
<circle cx="1146.4" cy="580.3" r="6.35" fill="#ffffff" stroke="#000000" stroke-width="2.8"/>
<circle cx="1159" cy="604.4" r="6.35" fill="#ffffff" stroke="#000000" stroke-width="2.8"/>
<circle cx="1159" cy="619.4" r="6.35" fill="#ffffff" stroke="#000000" stroke-width="2.8"/>
<circle cx="1226.1" cy="542.5" r="6.35" fill="#cdf7e7" stroke="#00c000" stroke-width="2.8"/>
<circle cx="1226.1" cy="556.1" r="6.35" fill="#cdf7e7" stroke="#00c000" stroke-width="2.8"/>
<circle cx="1226.1" cy="568.9" r="6.35" fill="#cdf7e7" stroke="#00c000" stroke-width="2.8"/>
<circle cx="1238.6" cy="611.7" r="6.35" fill="#cdf7e7" stroke="#00c000" stroke-width="2.8"/>
<circle cx="1213.5" cy="617" r="6.35" fill="#cdf7e7" stroke="#00c000" stroke-width="2.8"/>
<path d="M1360.1 501.4L1367.7 509L1360.1 516.6L1352.5 509Z" fill="#ffffff" stroke="#000000" stroke-width="2.8" stroke-linejoin="miter"/>
<path d="M1360.1 535.4L1367.7 543L1360.1 550.6L1352.5 543Z" fill="#ffffff" stroke="#000000" stroke-width="2.8" stroke-linejoin="miter"/>
<path d="M1360.1 583L1367.7 590.6L1360.1 598.2L1352.5 590.6Z" fill="#ffffff" stroke="#000000" stroke-width="2.8" stroke-linejoin="miter"/>
<path d="M1341.6 601.1L1349.2 608.7L1341.6 616.3L1334 608.7Z" fill="#ffffff" stroke="#000000" stroke-width="2.8" stroke-linejoin="miter"/>
<path d="M1378.5 604.2L1386.1 611.8L1378.5 619.4L1370.9 611.8Z" fill="#ffffff" stroke="#000000" stroke-width="2.8" stroke-linejoin="miter"/>
<path d="M1341.6 617.3L1349.2 624.9L1341.6 632.5L1334 624.9Z" fill="#ffffff" stroke="#000000" stroke-width="2.8" stroke-linejoin="miter"/>
<path d="M1445.6 567.2L1453.2 574.8L1445.6 582.4L1438 574.8Z" fill="#cdf7e7" stroke="#00c000" stroke-width="2.8" stroke-linejoin="miter"/>
<path d="M1409 569.4L1416.6 577L1409 584.6L1401.4 577Z" fill="#cdf7e7" stroke="#00c000" stroke-width="2.8" stroke-linejoin="miter"/>
<path d="M1427.2 591.7L1434.8 599.3L1427.2 606.9L1419.6 599.3Z" fill="#cdf7e7" stroke="#00c000" stroke-width="2.8" stroke-linejoin="miter"/>
<path d="M1445.6 614.2L1453.2 621.8L1445.6 629.4L1438 621.8Z" fill="#cdf7e7" stroke="#00c000" stroke-width="2.8" stroke-linejoin="miter"/>
<path d="M1409 628.3L1416.6 635.9L1409 643.5L1401.4 635.9Z" fill="#cdf7e7" stroke="#00c000" stroke-width="2.8" stroke-linejoin="miter"/>
<path d="M1146.25 563.8H1172.05M1146.25 589.5H1172.05M1159.15 563.8V589.5" fill="none" stroke="#000000" stroke-width="4.15"/>
<path d="M1213.35 563.8H1239.15M1213.35 593.8H1239.15M1226.25 563.8V593.8" fill="none" stroke="#00c000" stroke-width="4.15"/>
<path d="M1347.3 562.7H1373.1M1347.3 599.7H1373.1M1360.2 562.7V599.7" fill="none" stroke="#000000" stroke-width="4.15"/>
<path d="M1414.45 589.7H1440.25M1414.45 613.5H1440.25M1427.35 589.7V613.5" fill="none" stroke="#00c000" stroke-width="4.15"/>
<path d="M1107.8 445.9V679.6" fill="none" stroke="#000" stroke-width="4.2"/>
<path d="M1096.15 677.6H1455" fill="none" stroke="#000" stroke-width="4"/>
<path d="M1096.15 620.17H1107.8M1096.15 562.75H1107.8M1096.15 505.32H1107.8M1096.15 447.9H1107.8" fill="none" stroke="#000" stroke-width="4"/>
<text transform="translate(1093.9 685.5) scale(1 1.065)" text-anchor="end" class="t">0</text>
<text transform="translate(1093.9 628.07) scale(1 1.065)" text-anchor="end" class="t">1</text>
<text transform="translate(1093.9 570.65) scale(1 1.065)" text-anchor="end" class="t">2</text>
<text transform="translate(1093.9 513.23) scale(1 1.065)" text-anchor="end" class="t">3</text>
<text transform="translate(1093.9 455.8) scale(1 1.065)" text-anchor="end" class="t">4</text>
<text transform="translate(1069.3 560.35) rotate(-90) scale(1 0.93)" text-anchor="middle" class="yl">ng/µg protein</text>
<text transform="translate(1157.6 700.7) scale(1 1.09)" text-anchor="middle" class="xv">VEH</text>
<text transform="translate(1229.6 700.7) scale(1 1.065)" text-anchor="middle" class="xp cg">POLY</text>
<text transform="translate(1360.5 700.7) scale(1 1.09)" text-anchor="middle" class="xv">VEH</text>
<text transform="translate(1428.3 700.7) scale(1 1.065)" text-anchor="middle" class="xp cg">POLY</text>
<path d="M1124.3 710.4H1274M1124.3 704.6v11.6M1274 704.6v11.6" fill="none" stroke="#000" stroke-width="1.5"/>
<text transform="translate(1199.9 733.7) scale(1 1.05)" text-anchor="middle" class="gl">MALE</text>
<path d="M1314.3 710.4H1463.4M1314.3 704.6v11.6M1463.4 704.6v11.6" fill="none" stroke="#000" stroke-width="1.5"/>
<text transform="translate(1389 733.7) scale(1 1.05)" text-anchor="middle" class="gl">FEMALE</text>
</g>
<g class="panel">
<path d="M1640.35 677.6V573.55H1687.95V677.6" fill="#ffffff" stroke="#000000" stroke-width="4.1" stroke-linejoin="miter"/>
<path d="M1707.35 677.6V629.85H1755.15V677.6" fill="#ffffff" stroke="#00c000" stroke-width="4.1" stroke-linejoin="miter"/>
<path d="M1841.55 677.6V623.85H1888.85V677.6" fill="#d3d3d3" stroke="#000000" stroke-width="4.1" stroke-linejoin="miter"/>
<path d="M1908.35 677.6V655.55H1956.35V677.6" fill="#d3d3d3" stroke="#00c000" stroke-width="4.1" stroke-linejoin="miter"/>
<circle cx="1663.5" cy="494" r="6.35" fill="#ffffff" stroke="#000000" stroke-width="2.8"/>
<circle cx="1676.4" cy="550.2" r="6.35" fill="#ffffff" stroke="#000000" stroke-width="2.8"/>
<circle cx="1651.4" cy="557.2" r="6.35" fill="#ffffff" stroke="#000000" stroke-width="2.8"/>
<circle cx="1664.2" cy="579.8" r="6.35" fill="#ffffff" stroke="#000000" stroke-width="2.8"/>
<circle cx="1651.4" cy="624.5" r="6.35" fill="#ffffff" stroke="#000000" stroke-width="2.8"/>
<circle cx="1676.4" cy="623.8" r="6.35" fill="#ffffff" stroke="#000000" stroke-width="2.8"/>
<circle cx="1718.3" cy="606.9" r="6.35" fill="#cdf7e7" stroke="#00c000" stroke-width="2.8"/>
<circle cx="1743.8" cy="609.1" r="6.35" fill="#cdf7e7" stroke="#00c000" stroke-width="2.8"/>
<circle cx="1718.3" cy="621.2" r="6.35" fill="#cdf7e7" stroke="#00c000" stroke-width="2.8"/>
<circle cx="1743.8" cy="645.3" r="6.35" fill="#cdf7e7" stroke="#00c000" stroke-width="2.8"/>
<circle cx="1718.3" cy="655.8" r="6.35" fill="#cdf7e7" stroke="#00c000" stroke-width="2.8"/>
<path d="M1865.1 567.2L1872.7 574.8L1865.1 582.4L1857.5 574.8Z" fill="#ffffff" stroke="#000000" stroke-width="2.8" stroke-linejoin="miter"/>
<path d="M1883.5 586.2L1891.1 593.8L1883.5 601.4L1875.9 593.8Z" fill="#ffffff" stroke="#000000" stroke-width="2.8" stroke-linejoin="miter"/>
<path d="M1846.6 593.2L1854.2 600.8L1846.6 608.4L1839 600.8Z" fill="#ffffff" stroke="#000000" stroke-width="2.8" stroke-linejoin="miter"/>
<path d="M1865.1 639.5L1872.7 647.1L1865.1 654.7L1857.5 647.1Z" fill="#ffffff" stroke="#000000" stroke-width="2.8" stroke-linejoin="miter"/>
<path d="M1883.5 646.1L1891.1 653.7L1883.5 661.3L1875.9 653.7Z" fill="#ffffff" stroke="#000000" stroke-width="2.8" stroke-linejoin="miter"/>
<path d="M1846.6 653.1L1854.2 660.7L1846.6 668.3L1839 660.7Z" fill="#ffffff" stroke="#000000" stroke-width="2.8" stroke-linejoin="miter"/>
<path d="M1914 628.3L1921.6 635.9L1914 643.5L1906.4 635.9Z" fill="#cdf7e7" stroke="#00c000" stroke-width="2.8" stroke-linejoin="miter"/>
<path d="M1932.2 636.2L1939.8 643.8L1932.2 651.4L1924.6 643.8Z" fill="#cdf7e7" stroke="#00c000" stroke-width="2.8" stroke-linejoin="miter"/>
<path d="M1950.6 640.6L1958.2 648.2L1950.6 655.8L1943 648.2Z" fill="#cdf7e7" stroke="#00c000" stroke-width="2.8" stroke-linejoin="miter"/>
<path d="M1932.2 654.6L1939.8 662.2L1932.2 669.8L1924.6 662.2Z" fill="#cdf7e7" stroke="#00c000" stroke-width="2.8" stroke-linejoin="miter"/>
<path d="M1950.6 656.4L1958.2 664L1950.6 671.6L1943 664Z" fill="#cdf7e7" stroke="#00c000" stroke-width="2.8" stroke-linejoin="miter"/>
<path d="M1914 659.7L1921.6 667.3L1914 674.9L1906.4 667.3Z" fill="#cdf7e7" stroke="#00c000" stroke-width="2.8" stroke-linejoin="miter"/>
<path d="M1651.25 550.2H1677.05M1651.25 591.3H1677.05M1664.15 550.2V591.3" fill="none" stroke="#000000" stroke-width="4.15"/>
<path d="M1718.35 617.9H1744.15M1718.35 637.6H1744.15M1731.25 617.9V637.6" fill="none" stroke="#00c000" stroke-width="4.15"/>
<path d="M1852.3 606.9H1878.1M1852.3 636.5H1878.1M1865.2 606.9V636.5" fill="none" stroke="#000000" stroke-width="4.15"/>
<path d="M1919.45 648.5H1945.25M1919.45 658.6H1945.25M1932.35 648.5V658.6" fill="none" stroke="#00c000" stroke-width="4.15"/>
<path d="M1612.8 445.9V679.6" fill="none" stroke="#000" stroke-width="4.2"/>
<path d="M1601.15 677.6H1960" fill="none" stroke="#000" stroke-width="4"/>
<path d="M1601.15 620.17H1612.8M1601.15 562.75H1612.8M1601.15 505.32H1612.8M1601.15 447.9H1612.8" fill="none" stroke="#000" stroke-width="4"/>
<text transform="translate(1598.9 685.5) scale(1 1.065)" text-anchor="end" class="t">0</text>
<text transform="translate(1598.9 628.07) scale(1 1.065)" text-anchor="end" class="t">5</text>
<text transform="translate(1598.9 570.65) scale(1 1.065)" text-anchor="end" class="t">10</text>
<text transform="translate(1598.9 513.23) scale(1 1.065)" text-anchor="end" class="t">15</text>
<text transform="translate(1598.9 455.8) scale(1 1.065)" text-anchor="end" class="t">20</text>
<text transform="translate(1562.8 560.35) rotate(-90) scale(1 0.93)" text-anchor="middle" class="yl">ng/µg protein</text>
<text transform="translate(1662.6 700.7) scale(1 1.09)" text-anchor="middle" class="xv">VEH</text>
<text transform="translate(1734.6 700.7) scale(1 1.065)" text-anchor="middle" class="xp cg">POLY</text>
<text transform="translate(1865.5 700.7) scale(1 1.09)" text-anchor="middle" class="xv">VEH</text>
<text transform="translate(1933.3 700.7) scale(1 1.065)" text-anchor="middle" class="xp cg">POLY</text>
<path d="M1629.3 710.4H1779M1629.3 704.6v11.6M1779 704.6v11.6" fill="none" stroke="#000" stroke-width="1.5"/>
<text transform="translate(1704.9 733.7) scale(1 1.05)" text-anchor="middle" class="gl">MALE</text>
<path d="M1819.3 710.4H1968.4M1819.3 704.6v11.6M1968.4 704.6v11.6" fill="none" stroke="#000" stroke-width="1.5"/>
<text transform="translate(1894 733.7) scale(1 1.05)" text-anchor="middle" class="gl">FEMALE</text>
<path d="M1663.5 471.6H1739.8M1663.5 460.3v22.6M1739.8 460.3v22.6" fill="none" stroke="#000" stroke-width="3.1"/>
<text transform="translate(1701.65 472.8)" text-anchor="middle" class="star">*</text>
</g>
</svg>
</body>
</html>
